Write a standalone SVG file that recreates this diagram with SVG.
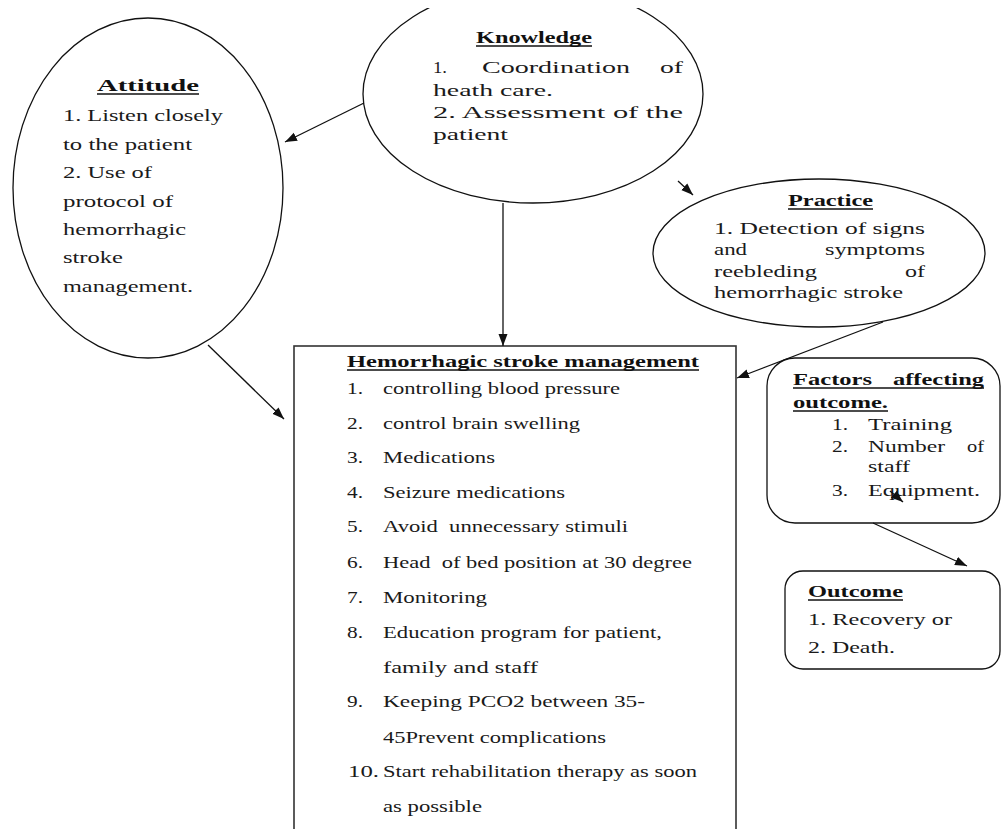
<svg xmlns="http://www.w3.org/2000/svg" width="1002" height="829" viewBox="0 0 1002 829">
<style>
.shape{fill:#fff;stroke:#111;stroke-width:1.3}
.box{fill:#fff;stroke:#333;stroke-width:1.6}
.t{font-family:"Liberation Serif","Times New Roman",serif;fill:#1a1a1a;font-size:16px}
.h{font-family:"Liberation Serif","Times New Roman",serif;fill:#111;font-weight:bold;font-size:17px}
.ul{stroke:#111;stroke-width:1.3}
.con{stroke:#111;stroke-width:1.3;fill:none;marker-end:url(#arr)}
</style>
<defs>
<marker id="arr" viewBox="0 0 12 10" refX="12" refY="5" markerWidth="12" markerHeight="10" markerUnits="userSpaceOnUse" orient="auto">
<path d="M0,0.5 L12,5 L0,9.5 z" fill="#111"/>
</marker>
<clipPath id="clipTop"><rect x="0" y="8" width="1002" height="821"/></clipPath>
</defs>
<rect width="1002" height="829" fill="#fff"/>

<g id="attitude">
<ellipse class="shape" cx="148" cy="188" rx="135" ry="170"/>
<text class="h" x="97" y="91" font-size="20" textLength="102" lengthAdjust="spacingAndGlyphs">Attitude</text>
<line class="ul" x1="97" y1="94" x2="199" y2="94"/>
<text class="t" x="63" y="121" font-size="16.5" textLength="160" lengthAdjust="spacingAndGlyphs">1. Listen closely</text>
<text class="t" x="63" y="150" font-size="16.5" textLength="129" lengthAdjust="spacingAndGlyphs">to the patient</text>
<text class="t" x="63" y="178" font-size="16.5" textLength="89" lengthAdjust="spacingAndGlyphs">2. Use of</text>
<text class="t" x="63" y="207" font-size="16.5" textLength="110" lengthAdjust="spacingAndGlyphs">protocol of</text>
<text class="t" x="63" y="235" font-size="16.5" textLength="123" lengthAdjust="spacingAndGlyphs">hemorrhagic</text>
<text class="t" x="63" y="263" font-size="16.5" textLength="60" lengthAdjust="spacingAndGlyphs">stroke</text>
<text class="t" x="63" y="292" font-size="16.5" textLength="130" lengthAdjust="spacingAndGlyphs">management.</text>
</g>

<g id="knowledge">
<ellipse class="shape" cx="533" cy="94" rx="170" ry="109" clip-path="url(#clipTop)"/>
<text class="h" x="476" y="43" font-size="18" textLength="116" lengthAdjust="spacingAndGlyphs">Knowledge</text>
<line class="ul" x1="476" y1="46" x2="592" y2="46"/>
<text class="t" x="433" y="73" font-size="19" textLength="14" lengthAdjust="spacingAndGlyphs">1.</text>
<text class="t" x="482" y="73" font-size="19" textLength="148" lengthAdjust="spacingAndGlyphs">Coordination</text>
<text class="t" x="660" y="73" font-size="19" textLength="23" lengthAdjust="spacingAndGlyphs">of</text>
<text class="t" x="433" y="96" font-size="19" textLength="120" lengthAdjust="spacingAndGlyphs">heath care.</text>
<text class="t" x="433" y="118" font-size="19" textLength="250" lengthAdjust="spacingAndGlyphs">2. Assessment of the</text>
<text class="t" x="433" y="140" font-size="19" textLength="75" lengthAdjust="spacingAndGlyphs">patient</text>
</g>

<g id="practice">
<ellipse class="shape" cx="819" cy="253" rx="166" ry="74"/>
<text class="h" x="788" y="206" font-size="17" textLength="85" lengthAdjust="spacingAndGlyphs">Practice</text>
<line class="ul" x1="788" y1="209" x2="873" y2="209"/>
<text class="t" x="714" y="234" font-size="16.5" textLength="211" lengthAdjust="spacingAndGlyphs">1. Detection of signs</text>
<text class="t" x="714" y="255" font-size="16.5" textLength="33" lengthAdjust="spacingAndGlyphs">and</text>
<text class="t" x="825" y="255" font-size="16.5" textLength="100" lengthAdjust="spacingAndGlyphs">symptoms</text>
<text class="t" x="714" y="277" font-size="16.5" textLength="103" lengthAdjust="spacingAndGlyphs">reebleding</text>
<text class="t" x="905" y="277" font-size="16.5" textLength="20" lengthAdjust="spacingAndGlyphs">of</text>
<text class="t" x="714" y="298" font-size="16.5" textLength="189" lengthAdjust="spacingAndGlyphs">hemorrhagic stroke</text>
</g>

<g id="management">
<rect class="box" x="294" y="346" width="442" height="500"/>
<text class="h" x="347" y="367" font-size="17" textLength="352" lengthAdjust="spacingAndGlyphs">Hemorrhagic stroke management</text>
<line class="ul" x1="347" y1="370" x2="699" y2="370"/>
<text class="t" x="347" y="394" textLength="16" lengthAdjust="spacingAndGlyphs">1.</text>
<text class="t" x="383" y="394" textLength="237" lengthAdjust="spacingAndGlyphs">controlling blood pressure</text>
<text class="t" x="347" y="429" textLength="16" lengthAdjust="spacingAndGlyphs">2.</text>
<text class="t" x="383" y="429" textLength="197" lengthAdjust="spacingAndGlyphs">control brain swelling</text>
<text class="t" x="347" y="463" textLength="16" lengthAdjust="spacingAndGlyphs">3.</text>
<text class="t" x="383" y="463" textLength="112" lengthAdjust="spacingAndGlyphs">Medications</text>
<text class="t" x="347" y="498" textLength="16" lengthAdjust="spacingAndGlyphs">4.</text>
<text class="t" x="383" y="498" textLength="182" lengthAdjust="spacingAndGlyphs">Seizure medications</text>
<text class="t" x="347" y="532" textLength="16" lengthAdjust="spacingAndGlyphs">5.</text>
<text class="t" x="383" y="532" textLength="245" lengthAdjust="spacingAndGlyphs" xml:space="preserve">Avoid  unnecessary stimuli</text>
<text class="t" x="347" y="568" textLength="16" lengthAdjust="spacingAndGlyphs">6.</text>
<text class="t" x="383" y="568" textLength="309" lengthAdjust="spacingAndGlyphs" xml:space="preserve">Head  of bed position at 30 degree</text>
<text class="t" x="347" y="603" textLength="16" lengthAdjust="spacingAndGlyphs">7.</text>
<text class="t" x="383" y="603" textLength="104" lengthAdjust="spacingAndGlyphs">Monitoring</text>
<text class="t" x="347" y="638" textLength="16" lengthAdjust="spacingAndGlyphs">8.</text>
<text class="t" x="383" y="638" textLength="279" lengthAdjust="spacingAndGlyphs">Education program for patient,</text>
<text class="t" x="383" y="673" textLength="155" lengthAdjust="spacingAndGlyphs">family and staff</text>
<text class="t" x="347" y="707" textLength="16" lengthAdjust="spacingAndGlyphs">9.</text>
<text class="t" x="383" y="707" textLength="262" lengthAdjust="spacingAndGlyphs">Keeping PCO2 between 35-</text>
<text class="t" x="383" y="743" textLength="223" lengthAdjust="spacingAndGlyphs">45Prevent complications</text>
<text class="t" x="348" y="777" textLength="31" lengthAdjust="spacingAndGlyphs">10.</text>
<text class="t" x="383" y="777" textLength="314" lengthAdjust="spacingAndGlyphs">Start rehabilitation therapy as soon</text>
<text class="t" x="383" y="812" textLength="99" lengthAdjust="spacingAndGlyphs">as possible</text>
</g>

<g id="factors">
<rect class="shape" x="767" y="358" width="233" height="165" rx="28" ry="28"/>
<text class="h" x="793" y="385" font-size="17" textLength="79" lengthAdjust="spacingAndGlyphs">Factors</text>
<text class="h" x="893" y="385" font-size="17" textLength="91" lengthAdjust="spacingAndGlyphs">affecting</text>
<line class="ul" x1="793" y1="388" x2="984" y2="388"/>
<text class="h" x="793" y="408" font-size="17" textLength="95" lengthAdjust="spacingAndGlyphs">outcome.</text>
<line class="ul" x1="793" y1="411" x2="888" y2="411"/>
<text class="t" x="832" y="430" font-size="17" textLength="16" lengthAdjust="spacingAndGlyphs">1.</text>
<text class="t" x="868" y="430" font-size="17" textLength="84" lengthAdjust="spacingAndGlyphs">Training</text>
<text class="t" x="832" y="452" font-size="17" textLength="16" lengthAdjust="spacingAndGlyphs">2.</text>
<text class="t" x="868" y="452" font-size="17" textLength="77" lengthAdjust="spacingAndGlyphs">Number</text>
<text class="t" x="967" y="452" font-size="17" textLength="17" lengthAdjust="spacingAndGlyphs">of</text>
<text class="t" x="868" y="472" font-size="17" textLength="42" lengthAdjust="spacingAndGlyphs">staff</text>
<text class="t" x="832" y="496" font-size="17" textLength="16" lengthAdjust="spacingAndGlyphs">3.</text>
<text class="t" x="868" y="496" font-size="17" textLength="112" lengthAdjust="spacingAndGlyphs">Equipment.</text>
</g>

<g id="outcome">
<rect class="shape" x="785" y="571" width="215" height="98" rx="18" ry="18"/>
<text class="h" x="808" y="597" font-size="18" textLength="95" lengthAdjust="spacingAndGlyphs">Outcome</text>
<line class="ul" x1="808" y1="600" x2="903" y2="600"/>
<text class="t" x="808" y="625" font-size="17" textLength="144" lengthAdjust="spacingAndGlyphs">1. Recovery or</text>
<text class="t" x="808" y="653" font-size="17" textLength="87" lengthAdjust="spacingAndGlyphs">2. Death.</text>
</g>

<g id="connectors">
<line class="con" x1="364" y1="103" x2="285" y2="142"/>
<line class="con" x1="503" y1="203" x2="503" y2="346"/>
<line class="con" x1="678" y1="181" x2="693" y2="195"/>
<line class="con" x1="883" y1="322" x2="737" y2="378"/>
<line class="con" x1="208" y1="345" x2="284" y2="419"/>
<line class="con" x1="873" y1="523" x2="967" y2="566"/>
<line class="con" x1="890" y1="491" x2="903" y2="502"/>
</g>
</svg>
